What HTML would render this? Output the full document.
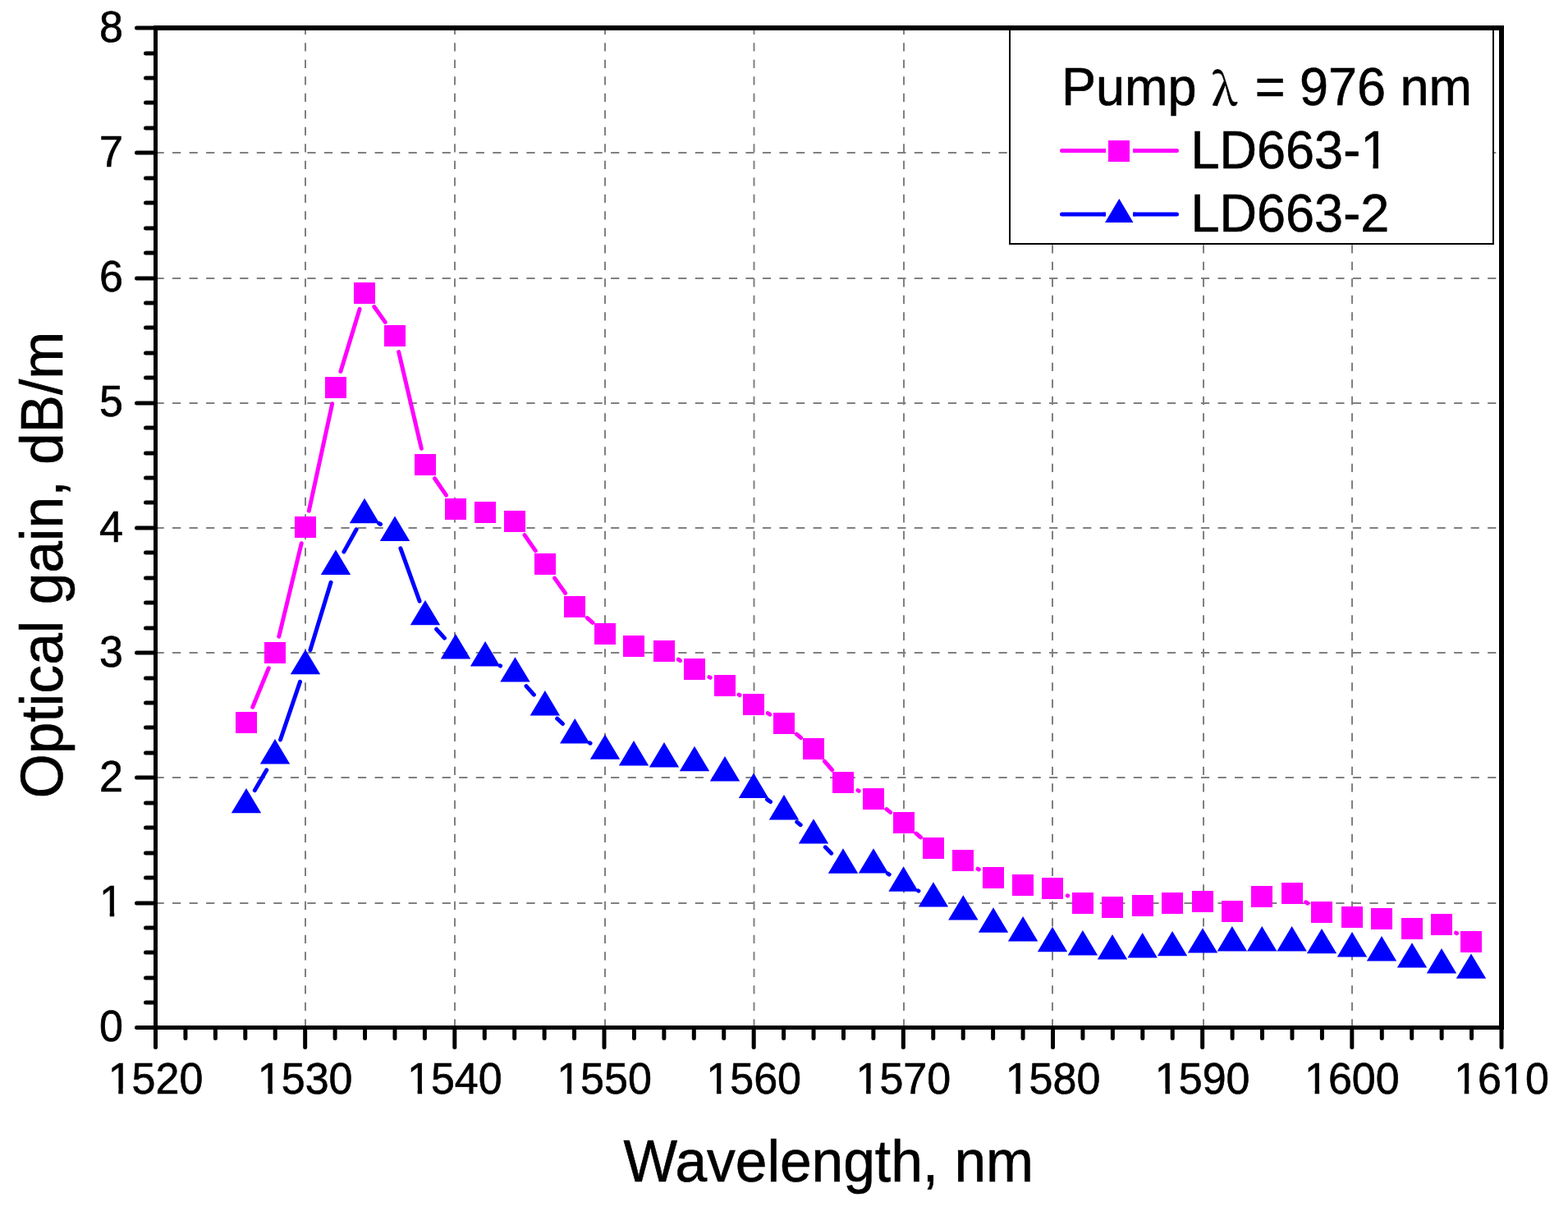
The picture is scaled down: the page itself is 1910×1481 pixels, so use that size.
<!DOCTYPE html><html><head><meta charset="utf-8"><style>html,body{margin:0;padding:0;background:#fff;overflow:hidden}svg{display:block}text{font-family:"Liberation Sans",Arial,sans-serif;fill:#000;stroke:#000;stroke-width:0.6px}</style></head><body>
<svg width="1910" height="1481" viewBox="0 0 1910 1481">
<rect width="1910" height="1481" fill="#fff"/>
<path d="M372 1251.5V34M554 1251.5V34M737 1251.5V34M918.5 1251.5V34M1101 1251.5V34M1282 1251.5V34M1466 1251.5V34M1647 1251.5V34" stroke="#808080" stroke-width="2" stroke-dasharray="10.2 10.3" fill="none"/>
<path d="M189.5 1100H1829M189.5 947H1829M189.5 795H1829M189.5 643H1829M189.5 491H1829M189.5 339H1829M189.5 186H1829" stroke="#808080" stroke-width="2" stroke-dasharray="10.2 10.34" fill="none"/>
<rect x="1230" y="36" width="589" height="261" fill="#fff" stroke="#000" stroke-width="2"/>
<path d="M307.73 861.23L327.27 813.77M339.77 775.27L367.23 661.73M376.31 622.16L404.69 491.74M414.92 452.48L438.08 376.42M455.78 373.53L469.22 392.37M485.65 428.66L513.35 546.24M529.49 582.74L543.51 603.16M639.03 651.59L652.32 670.81M675.58 704.08L688.55 722.42M715.36 752.56L721.9 758.44M826.41 803.24L828.59 804.56M863.88 824.62L865.12 825.28M899.99 846.01L901.01 846.69M935.24 868.52L937.76 870.08M970.36 894.07L975.64 898.63M1004.38 927.17L1013.62 937.73M1044.88 962.62L1046.12 963.28M1079.88 985.54L1084.67 989.36M1116.02 1015.14L1121.47 1019.76M1191.03 1058.24L1192.3 1058.96M1300.22 1090.74L1300.67 1090.96M1590.78 1098.85L1592.85 1100.15M1773.51 1136.16L1774.49 1136.74" stroke="#ff00ff" stroke-width="5" stroke-linecap="round" fill="none"/>
<path d="M310.24 962.64L324.76 937.79M341.52 901.04L365.48 830.39M377.92 791.75L403.08 709.28M418.88 672.13L434.12 644.8M461.51 637.34L463.49 638.5M487.9 667.86L511.1 732.07M531.58 766.25L541.42 777.18M609.06 810.8L609.51 811.03M640.99 835.62L650.36 846.12M678.68 875.15L685.45 881.49M718.23 904.81L719.03 905.23M934.48 973.62L938.52 976.52M970.79 1001.13L975.21 1004.71M1005.33 1031.84L1012.67 1039.19M1081.37 1063.97L1083.18 1065.06M1118.57 1084.92L1118.92 1085.11" stroke="#0000ff" stroke-width="5" stroke-linecap="round" fill="none"/>
<path d="M287 867h26v26h-26zM322 782h26v26h-26zM359 629h26v26h-26zM396 459h26v26h-26zM431 344h26v26h-26zM468 396h26v26h-26zM505 553h26v26h-26zM542 607h26v26h-26zM578 611h26v26h-26zM614 622h26v26h-26zM651 674h26v26h-26zM687 726h26v26h-26zM724 759h26v26h-26zM759 774h26v26h-26zM796 780h26v26h-26zM833 802h26v26h-26zM870 822h26v26h-26zM905 845h26v26h-26zM942 868h26v26h-26zM978 899h26v26h-26zM1014 940h26v26h-26zM1051 960h26v26h-26zM1088 989h26v26h-26zM1124 1020h26v26h-26zM1160 1035h26v26h-26zM1197 1056h26v26h-26zM1233 1065h26v26h-26zM1269 1069h26v26h-26zM1306 1087h26v26h-26zM1342 1092h26v26h-26zM1379 1090h26v26h-26zM1415 1087h26v26h-26zM1452 1085h26v26h-26zM1488 1097h26v26h-26zM1524 1079h26v26h-26zM1561 1075h26v26h-26zM1597 1098h26v26h-26zM1634 1104h26v26h-26zM1670 1106h26v26h-26zM1707 1118h26v26h-26zM1743 1113h26v26h-26zM1779 1134h26v26h-26z" fill="#ff00ff"/>
<path d="M300 959.9L318.2 990.3L281.8 990.3zM335 900L353.2 930.4L316.8 930.4zM372 790.9L390.2 821.3L353.8 821.3zM409 669.6L427.2 700L390.8 700zM444 606.8L462.2 637.2L425.8 637.2zM481 628.5L499.2 658.9L462.8 658.9zM518 730.9L536.2 761.3L499.8 761.3zM555 772L573.2 802.4L536.8 802.4zM591.09 781.1L609.29 811.5L572.89 811.5zM627.48 800.2L645.68 830.6L609.28 830.6zM663.87 841L682.07 871.4L645.67 871.4zM700.26 875.1L718.46 905.5L682.06 905.5zM737 894.4L755.2 924.8L718.8 924.8zM772 902.1L790.2 932.5L753.8 932.5zM809 904L827.2 934.4L790.8 934.4zM846 908.8L864.2 939.2L827.8 939.2zM883 921L901.2 951.4L864.8 951.4zM918 941.5L936.2 971.9L899.8 971.9zM955 968.1L973.2 998.5L936.8 998.5zM991 997.2L1009.2 1027.6L972.8 1027.6zM1027 1033.3L1045.2 1063.7L1008.8 1063.7zM1064 1033.2L1082.2 1063.6L1045.8 1063.6zM1100.55 1055.3L1118.75 1085.7L1082.35 1085.7zM1136.94 1074.2L1155.14 1104.6L1118.74 1104.6zM1173.33 1090.2L1191.53 1120.6L1155.13 1120.6zM1210 1105.3L1228.2 1135.7L1191.8 1135.7zM1246.11 1116L1264.31 1146.4L1227.91 1146.4zM1282 1128.8L1300.2 1159.2L1263.8 1159.2zM1318.89 1133.1L1337.09 1163.5L1300.69 1163.5zM1355 1138L1373.2 1168.4L1336.8 1168.4zM1391.67 1136.1L1409.87 1166.5L1373.47 1166.5zM1428.06 1133.9L1446.26 1164.3L1409.86 1164.3zM1465 1130.2L1483.2 1160.6L1446.8 1160.6zM1500.84 1128.1L1519.04 1158.5L1482.64 1158.5zM1537.23 1128.1L1555.43 1158.5L1519.03 1158.5zM1573.62 1128.1L1591.82 1158.5L1555.42 1158.5zM1610.01 1130.9L1628.21 1161.3L1591.81 1161.3zM1647 1135L1665.2 1165.4L1628.8 1165.4zM1683 1140.1L1701.2 1170.5L1664.8 1170.5zM1720 1148.2L1738.2 1178.6L1701.8 1178.6zM1756 1155.1L1774.2 1185.5L1737.8 1185.5zM1792 1161.4L1810.2 1191.8L1773.8 1191.8z" fill="#0000ff"/>
<g fill="#000">
<rect x="187" y="31" width="5" height="1223"/>
<rect x="187" y="1249" width="1645" height="5"/>
<rect x="187" y="31" width="1645" height="6"/>
<rect x="1826" y="31" width="6" height="1223"/>
</g>
<path d="M189.5 1251.5H166.5M189.5 1221H177.5M189.5 1191H177.5M189.5 1160H177.5M189.5 1130H177.5M189.5 1100H166.5M189.5 1069H177.5M189.5 1039H177.5M189.5 1008H177.5M189.5 978H177.5M189.5 947H166.5M189.5 917H177.5M189.5 886H177.5M189.5 856H177.5M189.5 826H177.5M189.5 795H166.5M189.5 765H177.5M189.5 734H177.5M189.5 704H177.5M189.5 673H177.5M189.5 643H166.5M189.5 612H177.5M189.5 582H177.5M189.5 552H177.5M189.5 521H177.5M189.5 491H166.5M189.5 460H177.5M189.5 430H177.5M189.5 399H177.5M189.5 369H177.5M189.5 339H166.5M189.5 308H177.5M189.5 278H177.5M189.5 247H177.5M189.5 217H177.5M189.5 186H166.5M189.5 156H177.5M189.5 125H177.5M189.5 95H177.5M189.5 65H177.5M189.5 34H166.5M189.5 1251.5V1275.5M225.93 1251.5V1264.5M262.37 1251.5V1264.5M298.8 1251.5V1264.5M335.23 1251.5V1264.5M371.67 1251.5V1275.5M408.1 1251.5V1264.5M444.53 1251.5V1264.5M480.97 1251.5V1264.5M517.4 1251.5V1264.5M553.83 1251.5V1275.5M590.27 1251.5V1264.5M626.7 1251.5V1264.5M663.13 1251.5V1264.5M699.57 1251.5V1264.5M736 1251.5V1275.5M772.43 1251.5V1264.5M808.87 1251.5V1264.5M845.3 1251.5V1264.5M881.73 1251.5V1264.5M918.17 1251.5V1275.5M954.6 1251.5V1264.5M991.03 1251.5V1264.5M1027.47 1251.5V1264.5M1063.9 1251.5V1264.5M1100.33 1251.5V1275.5M1136.77 1251.5V1264.5M1173.2 1251.5V1264.5M1209.63 1251.5V1264.5M1246.07 1251.5V1264.5M1282.5 1251.5V1275.5M1318.93 1251.5V1264.5M1355.37 1251.5V1264.5M1391.8 1251.5V1264.5M1428.23 1251.5V1264.5M1464.67 1251.5V1275.5M1501.1 1251.5V1264.5M1537.53 1251.5V1264.5M1573.97 1251.5V1264.5M1610.4 1251.5V1264.5M1646.83 1251.5V1275.5M1683.27 1251.5V1264.5M1719.7 1251.5V1264.5M1756.13 1251.5V1264.5M1792.57 1251.5V1264.5M1829 1251.5V1275.5" stroke="#000" stroke-width="5" stroke-linecap="round" fill="none"/>
<text transform="translate(150 1268.4) scale(1 1.04)" font-size="52" text-anchor="end">0</text><text transform="translate(150 1116.21) scale(1 1.04)" font-size="52" text-anchor="end">1</text><text transform="translate(150 964.02) scale(1 1.04)" font-size="52" text-anchor="end">2</text><text transform="translate(150 811.84) scale(1 1.04)" font-size="52" text-anchor="end">3</text><text transform="translate(150 659.65) scale(1 1.04)" font-size="52" text-anchor="end">4</text><text transform="translate(150 507.46) scale(1 1.04)" font-size="52" text-anchor="end">5</text><text transform="translate(150 355.27) scale(1 1.04)" font-size="52" text-anchor="end">6</text><text transform="translate(150 203.09) scale(1 1.04)" font-size="52" text-anchor="end">7</text><text transform="translate(150 50.9) scale(1 1.04)" font-size="52" text-anchor="end">8</text><text transform="translate(189.5 1331.8) scale(1 1.04)" font-size="52" text-anchor="middle">1520</text><text transform="translate(371.67 1331.8) scale(1 1.04)" font-size="52" text-anchor="middle">1530</text><text transform="translate(553.83 1331.8) scale(1 1.04)" font-size="52" text-anchor="middle">1540</text><text transform="translate(736 1331.8) scale(1 1.04)" font-size="52" text-anchor="middle">1550</text><text transform="translate(918.17 1331.8) scale(1 1.04)" font-size="52" text-anchor="middle">1560</text><text transform="translate(1100.33 1331.8) scale(1 1.04)" font-size="52" text-anchor="middle">1570</text><text transform="translate(1282.5 1331.8) scale(1 1.04)" font-size="52" text-anchor="middle">1580</text><text transform="translate(1464.67 1331.8) scale(1 1.04)" font-size="52" text-anchor="middle">1590</text><text transform="translate(1646.83 1331.8) scale(1 1.04)" font-size="52" text-anchor="middle">1600</text><text transform="translate(1829 1331.8) scale(1 1.04)" font-size="52" text-anchor="middle">1610</text>
<text transform="translate(1009.2 1439) scale(1 1.04)" font-size="69.5" text-anchor="middle">Wavelength, nm</text>
<text transform="translate(76.2 688) rotate(-90) scale(1 1.04)" font-size="69.6" text-anchor="middle">Optical gain, dB/m</text>
<text transform="translate(0 128) scale(1 1.04)" font-size="63"><tspan x="1292.9">Pump </tspan><tspan x="1476.1" font-size="52" font-weight="500" style="font-family:'Noto Serif CJK SC','Liberation Serif',serif">λ</tspan><tspan x="1528.7">= 976 nm</tspan></text>
<path d="M1293.5 183.5H1344.5M1382.5 183.5H1433.5" stroke="#ff00ff" stroke-width="5" stroke-linecap="round" fill="none"/>
<path d="M1344 183.5H1347M1380 183.5H1383" stroke="#ff00ff" stroke-width="5" fill="none"/>
<rect x="1350" y="171" width="26" height="26" fill="#ff00ff"/>
<path d="M1293.5 261H1344.5M1382.5 261H1433.5" stroke="#0000ff" stroke-width="5" stroke-linecap="round" fill="none"/>
<path d="M1344 261H1347M1380 261H1383" stroke="#0000ff" stroke-width="5" fill="none"/>
<path d="M1363.3 242L1380.5 271H1346Z" fill="#0000ff"/>
<text transform="translate(1450.53 205) scale(1 1.04)" font-size="63">LD663-1</text>
<text transform="translate(1450.53 282) scale(1 1.04)" font-size="63">LD663-2</text>
<path d="M123.62 1117.41H133.71V1110.06H123.62zM139.2 1117.41H149.26V1110.06H139.2zM134.2 1333H144.29V1325.65H134.2zM149.78 1333H159.84V1325.65H149.78zM316.37 1333H326.45V1325.65H316.37zM331.95 1333H342.01V1325.65H331.95zM498.53 1333H508.62V1325.65H498.53zM514.12 1333H524.18V1325.65H514.12zM680.7 1333H690.79V1325.65H680.7zM696.28 1333H706.34V1325.65H696.28zM862.87 1333H872.95V1325.65H862.87zM878.45 1333H888.51V1325.65H878.45zM1045.03 1333H1055.12V1325.65H1045.03zM1060.62 1333H1070.68V1325.65H1060.62zM1227.2 1333H1237.29V1325.65H1227.2zM1242.78 1333H1252.84V1325.65H1242.78zM1409.37 1333H1419.45V1325.65H1409.37zM1424.95 1333H1435.01V1325.65H1424.95zM1591.53 1333H1601.62V1325.65H1591.53zM1607.12 1333H1617.18V1325.65H1607.12zM1773.7 1333H1783.79V1325.65H1773.7zM1789.28 1333H1799.34V1325.65H1789.28zM1831.54 1333H1841.63V1325.65H1831.54zM1847.12 1333H1857.18V1325.65H1847.12zM1660.2 206.2H1672.52V197.99H1660.2zM1678.98 206.2H1691.27V197.99H1678.98z" fill="#fff"/>
</svg></body></html>
